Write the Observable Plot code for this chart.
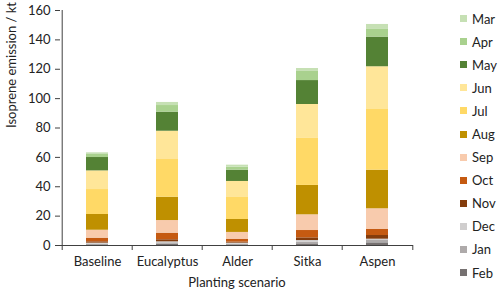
<!DOCTYPE html>
<html>
<head>
<meta charset="utf-8">
<script src="https://cdn.jsdelivr.net/npm/d3@7"></script>
<script src="https://cdn.jsdelivr.net/npm/@observablehq/plot@0.6"></script>
<style>
  body { margin: 0; background: #fff; }
  #wrap { position: relative; width: 500px; height: 294px; font-family: Lato, "Open Sans", sans-serif; }
  #legend { position: absolute; left: 460px; top: 7px; font-size: 13px; color: #222; }
  .item { display: flex; align-items: center; height: 23.1px; }
  .sw { width: 7px; height: 7px; margin-right: 5px; }
</style>
</head>
<body>
<div id="wrap"><div id="chart"></div><div id="legend"></div></div>
<script>
const scenarios = ["Baseline", "Eucalyptus", "Alder", "Sitka", "Aspen"];
// stacking order, bottom to top
const months = ["Feb", "Jan", "Dec", "Nov", "Oct", "Sep", "Aug", "Jul", "Jun", "May", "Apr", "Mar"];
const colors = ["#767171", "#aeaaaa", "#d0cece", "#843c0c", "#c55a11", "#f8cbad", "#bf9000", "#ffd966", "#ffe699", "#548235", "#a9d18e", "#c6e0b4"];
// emission per month (kt), in the order of `months`
const baseline   = [0.45, 0.45, 0.7, 0.9, 2.5, 5.4, 10.7, 17.0, 12.7, 9.1, 2.1, 1.1];
const eucalyptus = [0.9, 0.9, 0.7, 1.4, 4.5, 8.6, 15.9, 26.1, 18.8, 13.0, 4.5, 2.1];
const alder      = [0.45, 0.45, 0.7, 0.7, 2.0, 4.6, 8.8, 15.0, 10.9, 7.7, 2.0, 1.4];
const sitka      = [1.1, 1.2, 1.1, 1.8, 5.0, 10.7, 20.0, 32.0, 23.1, 16.3, 6.2, 2.0];
const aspen      = [1.8, 1.6, 0.9, 2.5, 4.3, 13.9, 26.3, 41.3, 29.1, 20.2, 5.2, 3.4];
const yTicks = [0, 20, 40, 60, 80, 100, 120, 140, 160];

const series = [baseline, eucalyptus, alder, sitka, aspen];
const data = [];
scenarios.forEach((s, i) => months.forEach((m, j) => data.push({scenario: s, month: m, value: series[i][j]})));

const W = 500, H = 294, mL = 60, mR = 87, mT = 10, mB = 49;
const step = (W - mL - mR) / scenarios.length;
const axisColor = "#404040";

const chart = Plot.plot({
  width: W, height: H,
  marginLeft: mL, marginRight: mR, marginTop: mT, marginBottom: mB,
  style: {fontFamily: "Lato, 'Open Sans', sans-serif", fontSize: "13px", color: "#222", background: "#fff"},
  x: {domain: scenarios, padding: 0, label: null},
  y: {domain: [0, 160], label: null},
  color: {domain: months, range: colors},
  marks: [
    Plot.barY(data, {x: "scenario", y: "value", fill: "month", order: months, insetLeft: 24, insetRight: 24}),
    Plot.ruleX(scenarios, {x: d => d, dx: -step / 2, y1: 0, y2: 0, stroke: axisColor, insetBottom: -5}),
    Plot.axisX({tickSize: 0, tickPadding: 11, fontSize: 13, label: null}),
    Plot.axisY({ticks: yTicks, tickSize: 5, tickPadding: 5, fontSize: 13, stroke: axisColor, label: null}),
    Plot.ruleY([0], {stroke: axisColor}),
    Plot.ruleX([scenarios[0]], {dx: -step / 2, stroke: axisColor}),
    Plot.ruleX([scenarios[scenarios.length - 1]], {dx: step / 2, y1: 0, y2: 0, insetBottom: -5, stroke: axisColor}),
    Plot.text(["Planting scenario"], {frameAnchor: "bottom", dy: 41, fontSize: 13, fill: "#222"}),
    Plot.text(["Isoprene emission / kt"], {frameAnchor: "left", dx: -49, rotate: -90, fontSize: 13, fill: "#222"})
  ]
});
document.getElementById("chart").appendChild(chart);

const legend = document.getElementById("legend");
for (let j = months.length - 1; j >= 0; j--) {
  const it = document.createElement("div");
  it.className = "item";
  it.innerHTML = `<span class="sw" style="background:${colors[j]}"></span><span>${months[j]}</span>`;
  legend.appendChild(it);
}
</script>
</body>
</html>
